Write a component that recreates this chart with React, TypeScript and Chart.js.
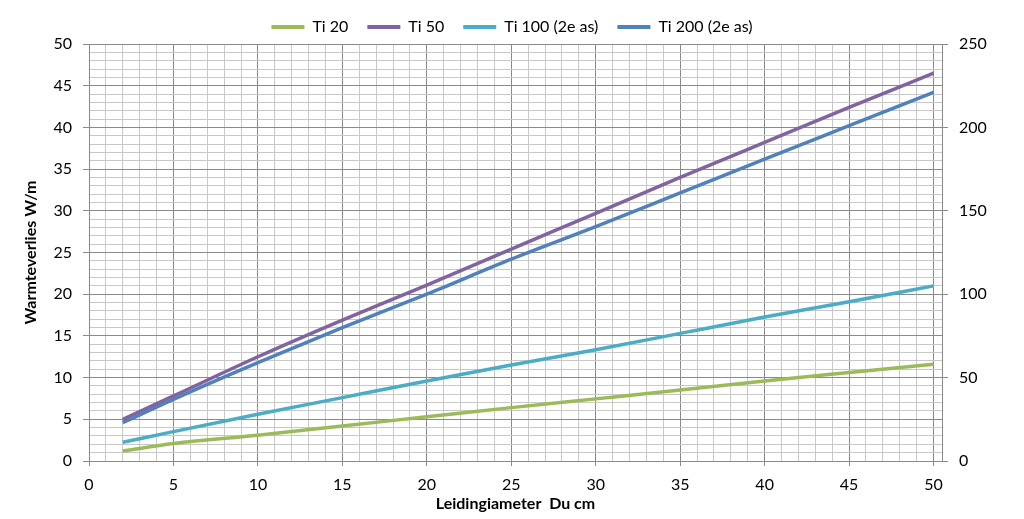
import React, { useEffect, useRef } from "react";
import { Chart, registerables } from "chart.js";

Chart.register(...registerables);

const xValues = [2, 5, 10, 15, 20, 25, 30, 35, 40, 45, 50];
const ti20 = [1.2, 2.1, 3.1, 4.2, 5.3, 6.4, 7.45, 8.5, 9.6, 10.6, 11.6];
const ti50 = [5.0, 7.8, 12.5, 16.9, 21.1, 25.4, 29.7, 34.0, 38.2, 42.4, 46.5];
const ti100 = [11.2, 17.6, 28, 38, 48, 57.5, 66.7, 76.5, 86.3, 95.5, 105];
const ti200 = [23, 37, 59, 80, 100, 121, 140.5, 160.7, 181, 201, 221];

const seriesNames = ["Ti 20", "Ti 50", "Ti 100 (2e as)", "Ti 200 (2e as)"];
const xTitle = "Leidingiameter  Du cm";
const yTitle = "Warmteverlies W/m";

const FONT = "Lato, Calibri, Carlito, 'Liberation Sans', sans-serif";
const MAJOR = "#8a8a8a";
const MINOR = "#c8c8c8";

function toPoints(ys: number[]) {
  return xValues.map((x, i) => ({ x, y: ys[i] }));
}

export default function App() {
  const ref = useRef<HTMLCanvasElement | null>(null);

  useEffect(() => {
    if (!ref.current) return;
    const mk = (label: string, data: number[], color: string, axis: string) => ({
      label,
      data: toPoints(data),
      borderColor: color,
      backgroundColor: color,
      borderWidth: 3.5,
      pointRadius: 0,
      cubicInterpolationMode: "monotone" as const,
      yAxisID: axis,
    });
    const gridColor = (ctx: any) =>
      ctx.tick && Math.abs(ctx.tick.value % 5) < 1e-9 ? MAJOR : MINOR;
    const tickColor = (ctx: any) =>
      ctx.tick && Math.abs(ctx.tick.value % 5) < 1e-9 ? MAJOR : "rgba(0,0,0,0)";
    const chart = new Chart(ref.current, {
      type: "line",
      data: {
        datasets: [
          mk(seriesNames[0], ti20, "#9bbb59", "y"),
          mk(seriesNames[1], ti50, "#8064a2", "y"),
          mk(seriesNames[2], ti100, "#4bacc6", "y2"),
          mk(seriesNames[3], ti200, "#4f81bd", "y2"),
        ],
      },
      options: {
        responsive: false,
        animation: false,
        devicePixelRatio: 1,
        layout: { padding: 0 },
        plugins: {
          tooltip: { enabled: false },
          legend: {
            position: "top",
            align: "center",
            maxHeight: 44,
            labels: {
              boxWidth: 33,
              boxHeight: 4,
              padding: 19,
              color: "#000",
              font: { family: FONT, size: 16 },
              generateLabels: (c: any) =>
                (Chart.defaults.plugins.legend.labels as any)
                  .generateLabels(c)
                  .map((l: any) => ({ ...l, lineWidth: 0 })),
            },
          },
        },
        scales: {
          x: {
            type: "linear",
            position: "bottom",
            min: 0,
            max: 50.5,
            ticks: {
              stepSize: 1,
              includeBounds: false,
              autoSkip: false,
              maxRotation: 0,
              padding: 9,
              color: "#000",
              font: { family: FONT, size: 16 },
              callback: (v: any) => (Number(v) % 5 === 0 ? String(v) : ""),
            },
            grid: {
              color: gridColor,
              tickColor: tickColor,
              tickLength: 5,
              lineWidth: 1,
            },
            border: { color: MAJOR, width: 1 },
            title: {
              display: true,
              text: xTitle,
              color: "#000",
              font: { family: FONT, size: 16, weight: "bold" },
              padding: { top: 0, bottom: 6 },
            },
            afterFit: (s: any) => {
              s.height = 58;
            },
          },
          y: {
            type: "linear",
            position: "left",
            min: 0,
            max: 50,
            ticks: {
              stepSize: 1,
              autoSkip: false,
              padding: 11,
              color: "#000",
              font: { family: FONT, size: 16 },
              callback: (v: any) => (Number(v) % 5 === 0 ? String(v) : ""),
            },
            grid: {
              color: gridColor,
              tickColor: tickColor,
              tickLength: 6,
              lineWidth: 1,
            },
            border: { color: MAJOR, width: 1 },
            title: {
              display: true,
              text: yTitle,
              color: "#000",
              font: { family: FONT, size: 16, weight: "bold" },
              padding: { top: 21, bottom: 0 },
            },
            afterFit: (s: any) => {
              s.width = 89;
            },
          },
          y2: {
            type: "linear",
            position: "right",
            min: 0,
            max: 250,
            ticks: {
              stepSize: 50,
              padding: 11,
              color: "#000",
              font: { family: FONT, size: 16 },
            },
            grid: {
              drawOnChartArea: false,
              tickLength: 6,
              tickColor: MAJOR,
            },
            border: { color: MAJOR, width: 1 },
            afterFit: (s: any) => {
              s.width = 82;
            },
          },
        },
      } as any,
    });
    return () => chart.destroy();
  }, []);

  return (
    <div style={{ position: "absolute", left: 0, top: 0, width: 1024, height: 519, background: "#fff" }}>
      <canvas ref={ref} width={1024} height={519} style={{ display: "block" }} />
    </div>
  );
}
